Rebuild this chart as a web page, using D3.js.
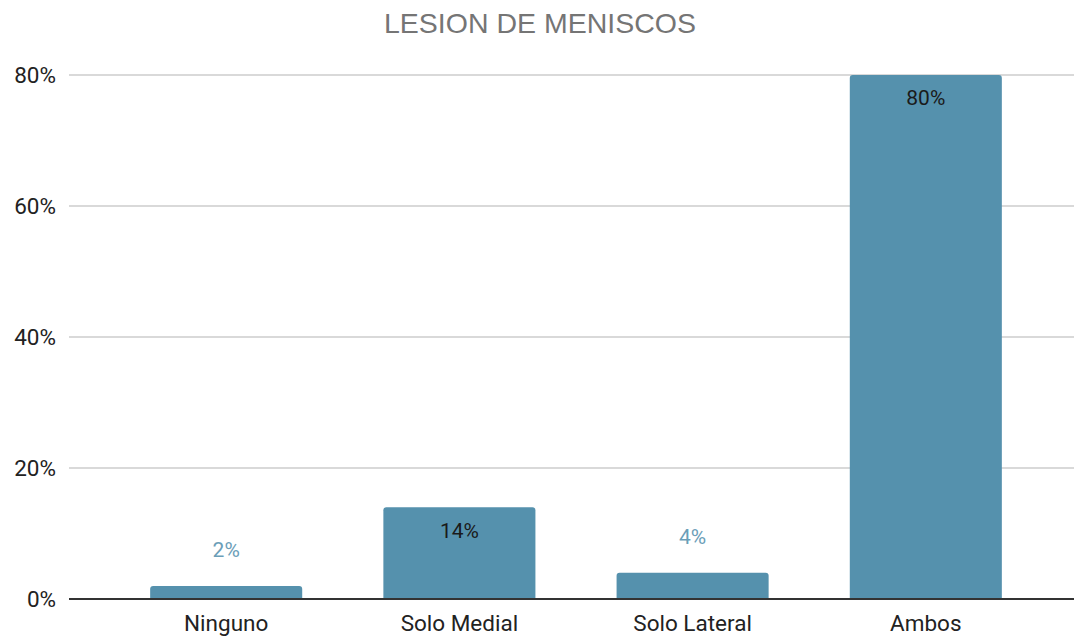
<!DOCTYPE html>
<html>
<head>
<meta charset="utf-8">
<script src="https://cdn.jsdelivr.net/npm/d3@7"></script>
<style>
  html, body { margin: 0; padding: 0; background: #fff; }
  svg { display: block; }
</style>
</head>
<body>
<svg id="chart" width="1074" height="636"></svg>
<script>
const categories = ["Ninguno", "Solo Medial", "Solo Lateral", "Ambos"];
const values = [2, 14, 4, 80];
const valueLabels = ["2%", "14%", "4%", "80%"];
const yTicks = [0, 20, 40, 60, 80];
const title = "LESION DE MENISCOS";

const svg = d3.select("#chart");
const W = 1074, H = 636;
const barColor = "#5591ad";

const x = d3.scaleBand().domain(categories).range([69, 1083]).padding(0.348);
const y = d3.scaleLinear().domain([0, 80]).range([599, 75]);

// title
svg.append("text")
  .attr("x", 540).attr("y", 33)
  .attr("text-anchor", "middle")
  .attr("font-family", "Liberation Sans, Arial, sans-serif")
  .attr("font-size", 28.5)
  .attr("fill", "#757575")
  .text(title);

// gridlines
const yAxis = d3.axisLeft(y).tickValues(yTicks).tickSize(0).tickPadding(13)
  .tickFormat(d => d + "%");
const gAxis = svg.append("g").attr("transform", "translate(69,0)").call(yAxis);
gAxis.select(".domain").remove();
gAxis.selectAll("text")
  .attr("font-family", "Roboto, sans-serif")
  .attr("font-size", 22.5)
  .attr("fill", "#222");

svg.append("g").selectAll("line").data(yTicks.filter(d => d > 0)).join("line")
  .attr("x1", 69).attr("x2", W)
  .attr("y1", d => y(d)).attr("y2", d => y(d))
  .attr("stroke", "#cccccc").attr("stroke-width", 1.5);

// bars with rounded top corners
const r = 3;
function barPath(d, i) {
  const x0 = x(categories[i]), w = x.bandwidth();
  const yt = y(d), yb = y(0);
  return `M${x0},${yb} L${x0},${yt + r} Q${x0},${yt} ${x0 + r},${yt} L${x0 + w - r},${yt} Q${x0 + w},${yt} ${x0 + w},${yt + r} L${x0 + w},${yb} Z`;
}
svg.append("g").selectAll("path").data(values).join("path")
  .attr("d", barPath)
  .attr("fill", barColor);

// baseline
svg.append("line")
  .attr("x1", 69).attr("x2", W)
  .attr("y1", y(0)).attr("y2", y(0))
  .attr("stroke", "#333").attr("stroke-width", 2);

// data labels
svg.append("g").selectAll("text").data(values).join("text")
  .attr("x", (d, i) => x(categories[i]) + x.bandwidth() / 2)
  .attr("y", d => d >= 10 ? y(d) + 23 : y(d) - 36)
  .attr("dy", "0.35em")
  .attr("text-anchor", "middle")
  .attr("font-family", "Roboto, sans-serif")
  .attr("font-size", 21)
  .attr("fill", d => d >= 10 ? "#1a1a1a" : "#6b9eb8")
  .text((d, i) => valueLabels[i]);

// category labels
const xAxis = d3.axisBottom(x).tickSize(0).tickPadding(16);
const gx = svg.append("g").attr("transform", `translate(0,${y(0)})`).call(xAxis);
gx.select(".domain").remove();
gx.selectAll("text")
  .attr("font-family", "Roboto, sans-serif")
  .attr("font-size", 22.5)
  .attr("fill", "#222");
</script>
</body>
</html>
